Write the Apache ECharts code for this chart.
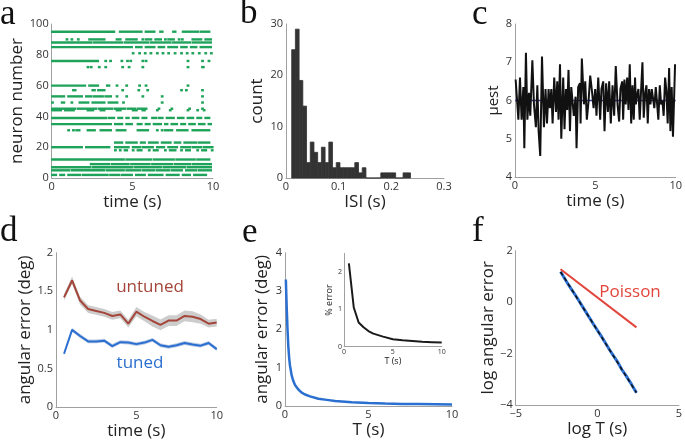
<!DOCTYPE html>
<html><head><meta charset="utf-8">
<script src="https://cdn.jsdelivr.net/npm/echarts@6/dist/echarts.min.js"></script>
<style>html,body{margin:0;padding:0;background:#fff}#c{width:685px;height:442px}</style>
</head><body><div id="c"></div>
<script>
// ---------- Panel a: spike raster (neuron, runs of spikes [start,end] in s) ----------
const rasterNeurons = [95, 90, 88, 85, 81, 76, 72, 60, 57, 53, 49, 45, 44, 39, 35, 31, 23, 20, 18, 12, 9, 7, 5, 2];
const rasterRuns = [
  [[0,3.9],[4.2,5.6],[5.8,6.4],[6.7,6.9],[7.5,7.7],[8.1,9.1],[9.2,9.8]],
  [[0.9,0.9],[1.2,1.2],[1.6,1.6],[2.3,3.3],[4.0,4.3],[4.6,5.3],[5.6,5.6],[5.8,6.2],[6.4,6.8],[7.0,7.0],[7.2,7.6],[7.85,7.85],[8.05,8.05],[8.7,9.3],[9.5,9.9]],
  [[0,2.5],[2.6,4.4],[4.5,6.0],[6.1,7.4],[7.5,8.6],[8.7,9.9]],
  [[0,5.0],[5.2,5.6],[5.8,6.4],[6.6,7.0],[7.2,7.8],[8.0,8.4],[8.6,9.0],[9.2,9.9]],
  [[5.0,5.0],[5.4,5.4],[5.75,5.75],[6.1,6.1],[6.5,6.5],[6.85,6.85],[7.2,7.2],[7.6,7.6],[8.0,8.0],[8.35,8.35],[8.7,8.7],[9.1,9.1],[9.5,9.5],[9.85,9.85]],
  [[0,2.9],[3.3,3.3],[3.6,3.6],[4.3,4.3],[4.65,4.65],[4.85,4.85],[5.6,5.6],[5.8,5.8],[8.4,8.5],[9.3,9.3],[9.7,9.7]],
  [[2.2,2.2],[2.4,2.4],[2.9,2.9],[3.3,3.3],[4.35,4.35],[4.75,4.85],[5.6,5.7],[8.4,8.5],[9.3,9.45]],
  [[0,2.1],[2.3,2.9],[3.4,3.6],[4.0,4.0],[4.6,4.6],[5.4,5.4],[5.8,5.8],[8.4,8.4]],
  [[1.3,1.5],[2.5,2.7],[2.85,3.3],[4.35,4.35],[5.35,5.35],[5.9,5.9],[8.0,8.0],[8.3,8.3],[9.3,9.3]],
  [[0,0.8],[1.0,1.9],[2.1,2.5],[2.6,3.2],[3.3,3.7],[4.0,4.0],[4.6,4.6],[5.6,5.6],[6.8,6.8],[9.3,9.3]],
  [[0,0],[0.6,0.8],[1.2,1.2],[1.7,2.3],[2.5,3.3],[3.5,4.1],[4.4,4.4],[6.8,6.8],[9.3,9.3]],
  [[0,1.5],[1.6,2.8],[2.9,3.8],[3.9,4.6],[4.7,5.2],[5.3,5.9],[6.6,6.6],[7.4,7.4],[8.5,8.5],[9.3,9.3]],
  [[0,0.6],[0.8,1.4],[2.2,2.6],[3.0,3.3],[4.0,4.3],[5.0,5.3],[5.6,5.8],[6.5,6.5],[7.3,7.3],[8.4,8.4],[9.0,9.0],[9.4,9.4]],
  [[0,3.4],[3.5,3.9],[4.1,4.4],[4.6,4.8],[5.0,5.4],[5.6,5.9],[6.2,6.5],[6.6,6.9],[7.1,7.6],[7.8,8.2],[8.4,8.8],[9.0,9.3],[9.5,9.8]],
  [[0,3.7],[3.9,4.4],[4.6,5.0],[5.3,5.6],[5.8,6.1],[6.3,6.8],[7.0,7.2],[7.4,7.8],[8.0,8.3],[8.5,8.9],[9.1,9.5],[9.7,9.9]],
  [[1.0,1.1],[1.3,1.3],[1.5,1.75],[2.2,2.7],[3.0,3.7],[4.0,4.6],[5.3,6.0],[6.5,6.5],[6.8,6.8],[7.0,7.5],[7.75,8.45],[8.7,9.8]],
  [[3.9,4.4],[4.6,5.3],[5.5,5.8],[6.0,6.6],[6.8,7.4],[7.6,8.0],[8.2,9.0],[9.1,9.8]],
  [[0,1.9],[2.1,3.6],[3.9,4.8],[5.0,5.5],[5.6,6.3],[6.5,7.0],[7.2,7.8],[8.0,8.6],[8.7,9.3],[9.4,10]],
  [[3.9,3.9],[4.2,4.2],[4.5,4.7],[5.0,5.0],[5.3,5.6],[6.0,6.0],[6.3,6.6],[7.0,7.0],[7.3,7.7],[8.0,8.0],[8.3,8.6],[9.0,9.0],[9.3,9.6],[9.9,9.9]],
  [[0,4.5],[4.6,6.2],[6.3,7.6],[7.7,8.9],[9.0,9.8]],
  [[2.4,3.6],[3.7,4.8],[4.9,6.1],[6.2,7.5],[7.6,8.6],[8.7,9.9]],
  [[0,2.4],[2.5,5.0],[5.1,6.8],[6.9,8.3],[8.4,9.9]],
  [[0,1.1],[1.2,3.3],[3.4,4.5],[4.6,5.5],[5.6,6.4],[6.5,7.3],[7.4,8.1],[8.3,9.0],[9.1,9.9]],
  [[0,0.3],[0.5,0.8],[1.0,1.8],[1.9,3.5],[3.6,4.2],[4.3,5.0],[5.2,5.8],[6.0,6.9],[7.1,7.9],[8.1,8.6],[8.8,9.6]]
];

// ---------- Panel b: ISI histogram ----------
const isiBinStart = 0.0108;
const isiBinWidth = 0.00705;
const isiCounts = [25,29,19,14,3,7,5,3,6,3,7,2,3,2,2,2,2,3,1,2,0,0,0,0,1,1,1,1,0,0,1,1];

// ---------- Panel c: mu estimate ----------
const muTimes = [0.04,0.21,0.31,0.41,0.52,0.58,0.68,0.77,0.87,0.95,1.08,1.18,1.30,1.39,1.47,1.57,1.68,1.80,1.90,1.99,2.09,2.17,2.26,2.34,2.44,2.55,2.63,2.71,2.80,2.88,3.00,3.08,3.17,3.25,3.33,3.42,3.50,3.58,3.66,3.77,3.83,3.93,4.04,4.08,4.16,4.29,4.37,4.47,4.58,4.68,4.80,4.89,4.99,5.07,5.18,5.30,5.38,5.49,5.57,5.67,5.78,5.86,5.96,6.07,6.17,6.27,6.38,6.48,6.56,6.67,6.73,6.81,6.89,6.98,7.06,7.14,7.23,7.31,7.39,7.47,7.52,7.60,7.68,7.76,7.85,7.93,8.01,8.10,8.18,8.26,8.34,8.43,8.51,8.59,8.67,8.76,8.84,8.92,9.01,9.09,9.17,9.25,9.34,9.42,9.50,9.59,9.67,9.75,9.83,9.96];
const muValues = [6.55,5.5,6.6,5.5,6.35,4.75,7.25,5.5,6.2,5.6,7.05,5.9,5.3,6.4,5.2,4.55,7.15,5.3,6.3,5.4,6.3,5.8,6.3,5.4,6.6,5.7,6.5,5.5,6.95,5.0,6.6,5.25,6.3,5.75,6.8,5.2,6.35,6.35,5.6,6.1,4.75,6.35,6.45,5.4,7.1,5.9,6.5,5.5,6.0,6.65,6.2,5.8,6.3,5.6,6.6,5.5,6.3,6.5,5.2,6.45,5.7,6.5,5.4,6.4,5.6,6.9,5.9,5.45,6.3,6.5,5.5,6.55,5.9,6.6,5.75,6.95,5.4,6.4,5.5,6.6,5.9,6.15,6.3,5.5,6.3,7.0,5.55,6.2,6.4,5.4,6.3,5.9,6.3,6.35,5.8,6.35,6.3,5.5,6.4,5.9,6.0,5.6,6.6,6.25,5.4,6.85,5.2,6.35,5.05,6.95];
const muTrue = 6;

// ---------- Panel d: angular error vs time ----------
const dTimes = [0.5,1,1.5,2,2.5,3,3.5,4,4.5,5,5.5,6,6.5,7,7.5,8,8.5,9,9.5,10];
const untunedMean = [1.42,1.64,1.38,1.27,1.245,1.22,1.18,1.2,1.08,1.235,1.17,1.115,1.065,1.12,1.12,1.18,1.17,1.14,1.08,1.095];
const untunedErr = [0.04,0.05,0.05,0.05,0.05,0.05,0.05,0.05,0.05,0.06,0.06,0.07,0.07,0.07,0.07,0.07,0.07,0.06,0.05,0.05];
const tunedMean = [0.69,1.0,0.92,0.85,0.85,0.86,0.79,0.84,0.835,0.815,0.835,0.87,0.80,0.78,0.80,0.83,0.81,0.795,0.83,0.75];
const tunedErr = [0.02,0.025,0.025,0.025,0.025,0.025,0.025,0.025,0.025,0.025,0.025,0.025,0.025,0.025,0.025,0.025,0.025,0.025,0.025,0.025];

// ---------- Panel e: angular error vs T, and inset % error ----------
const eT = [0.05,0.1,0.15,0.2,0.25,0.3,0.4,0.5,0.6,0.8,1.0,1.2,1.5,2,2.5,3,4,5,6,7,8,9,10];
const eErr = [3.3,2.6,2.0,1.55,1.25,1.05,0.8,0.65,0.55,0.43,0.35,0.3,0.25,0.19,0.16,0.13,0.1,0.08,0.065,0.055,0.05,0.045,0.04];
const insetT = [0.5,1,1.5,2,2.5,3,4,5,6,7,8,9,10];
const insetPct = [2.23,1.05,0.65,0.52,0.42,0.35,0.27,0.2,0.17,0.15,0.13,0.12,0.11];

// ---------- Panel f: log-log ----------
const fLogT = [-2.25,-1.75,-1.25,-0.75,-0.25,0.25,0.75,1.25,1.5,1.75,2.1,2.4];
const fLogErr = [1.18,0.66,0.18,-0.33,-0.84,-1.33,-1.85,-2.33,-2.62,-2.85,-3.2,-3.52];
const fFitT = [-2.25, 2.4];
const fFitErr = [1.18, -3.52];
const fPoissonT = [-2.25, 2.4];
const fPoissonErr = [1.28, -0.98];

// ---------- styling ----------
const FONT = 'Open Sans';
const GREEN = '#1fa35a', BROWN = '#a4463a', BLUE = '#2b6fd0', RED = '#e2453c';
const zip = (a, b) => a.map((v, i) => [v, b[i]]);

function ax(gridIndex, min, max, interval, name, o) {
  o = o || {};
  return {
    gridIndex, type: 'value', min, max, interval, name,
    nameLocation: 'middle', nameGap: o.nameGap || 18,
    nameTextStyle: { fontSize: o.nameSize || 17, color: '#222', fontFamily: FONT },
    axisLine: { show: true, onZero: false, lineStyle: { color: '#a0a0a0', width: 1 } },
    axisTick: { show: false },
    splitLine: { show: false },
    axisLabel: { color: '#333', fontSize: o.labelSize || 11, fontFamily: FONT, margin: o.margin || 3,
      showMaxLabel: o.hideMax ? false : true,
      formatter: v => String(+v.toFixed(3)).replace('-', '\u2212') }
  };
}

const rasterData = [];
rasterNeurons.forEach((n, i) => rasterRuns[i].forEach(r => rasterData.push([r[0], r[1], n])));
const isiData = isiCounts.map((c, k) => [isiBinStart + k * isiBinWidth, isiBinStart + (k + 1) * isiBinWidth, c]);

function band(xs, m, e, color, xi, yi) {
  return {
    type: 'custom', xAxisIndex: xi, yAxisIndex: yi, silent: true, z: 1,
    data: [[xs[0], m[0]]],
    renderItem: (params, api) => {
      const pts = [];
      for (let i = 0; i < xs.length; i++) pts.push(api.coord([xs[i], m[i] + e[i]]));
      for (let i = xs.length - 1; i >= 0; i--) pts.push(api.coord([xs[i], m[i] - e[i]]));
      return { type: 'polygon', shape: { points: pts }, style: { fill: color } };
    }
  };
}

const option = {
  animation: false,
  backgroundColor: '#fff',
  grid: [
    { left: 51.7, top: 24, width: 161.3, height: 154 },
    { left: 286, top: 24, width: 158, height: 154 },
    { left: 515, top: 24, width: 161, height: 153 },
    { left: 56, top: 252.7, width: 160.7, height: 154.3 },
    { left: 285, top: 252.7, width: 167, height: 153.3 },
    { left: 344, top: 253.4, width: 97.7, height: 93.3 },
    { left: 515.7, top: 250.7, width: 164.3, height: 154.3 }
  ],
  xAxis: [
    ax(0, 0, 10, 5, 'time (s)', { nameGap: 16 }),
    ax(1, 0, 0.3, 0.1, 'ISI (s)', { nameGap: 16 }),
    ax(2, 0, 10, 5, 'time (s)', { nameGap: 16 }),
    ax(3, 0, 10, 5, 'time (s)', { nameGap: 16 }),
    ax(4, 0, 10, 5, 'T (s)', { nameGap: 16 }),
    ax(5, 0, 10, 5, 'T (s)', { nameGap: 8, nameSize: 9, labelSize: 7, margin: 2 }),
    ax(6, -5, 5, 5, 'log T (s)', { nameGap: 16 })
  ],
  yAxis: [
    ax(0, 0, 100, 20, 'neuron number', { nameGap: 15 }),
    ax(1, 0, 30, 10, 'count', { nameGap: 20 }),
    ax(2, 4, 8, 1, '\u03bcest', { nameGap: 14, nameSize: 15 }),
    ax(3, 0, 2, 0.5, 'angular error (deg)', { nameGap: 21 }),
    ax(4, 0, 4, 1, 'angular error (deg)', { nameGap: 14 }),
    ax(5, 0, 2.5, 1, '% error', { nameGap: 8, nameSize: 9, labelSize: 7, margin: 2, hideMax: true }),
    ax(6, -4, 2, 2, 'log angular error', { nameGap: 11 })
  ],
  series: [
    { type: 'custom', xAxisIndex: 0, yAxisIndex: 0, data: rasterData, encode: { x: [0, 1], y: 2 },
      renderItem: (params, api) => {
        const p1 = api.coord([api.value(0), api.value(2)]);
        const p2 = api.coord([api.value(1), api.value(2)]);
        const w = Math.max(p2[0] - p1[0], 1.6);
        return { type: 'rect', shape: { x: p1[0] - 0.6, y: p1[1] - 1.2, width: w + 1.2, height: 2.4 }, style: { fill: GREEN } };
      } },
    { type: 'custom', xAxisIndex: 1, yAxisIndex: 1, data: isiData, encode: { x: [0, 1], y: 2 },
      renderItem: (params, api) => {
        const p1 = api.coord([api.value(0), api.value(2)]);
        const p2 = api.coord([api.value(1), 0]);
        return { type: 'rect', shape: { x: p1[0], y: p1[1], width: p2[0] - p1[0], height: p2[1] - p1[1] },
          style: { fill: '#333333', stroke: '#333333', lineWidth: 0.8 } };
      } },
    { type: 'line', xAxisIndex: 2, yAxisIndex: 2, data: [[0, muTrue], [10, muTrue]], showSymbol: false,
      lineStyle: { color: '#3a3a9c', width: 1.5 }, z: 1 },
    { type: 'line', xAxisIndex: 2, yAxisIndex: 2, data: zip(muTimes, muValues), showSymbol: false,
      lineStyle: { color: '#111', width: 2 }, z: 2 },
    band(dTimes, untunedMean, untunedErr, '#cdcdcd', 3, 3),
    band(dTimes, tunedMean, tunedErr, '#bccbe3', 3, 3),
    { type: 'line', xAxisIndex: 3, yAxisIndex: 3, data: zip(dTimes, untunedMean), showSymbol: false,
      lineStyle: { color: BROWN, width: 2 }, z: 3 },
    { type: 'line', xAxisIndex: 3, yAxisIndex: 3, data: zip(dTimes, tunedMean), showSymbol: false,
      lineStyle: { color: BLUE, width: 2 }, z: 3 },
    { type: 'line', xAxisIndex: 4, yAxisIndex: 4, data: zip(eT, eErr), showSymbol: false,
      lineStyle: { color: BLUE, width: 2.5 } },
    { type: 'line', xAxisIndex: 5, yAxisIndex: 5, data: zip(insetT, insetPct), showSymbol: false,
      lineStyle: { color: '#1a1a1a', width: 2 } },
    { type: 'line', xAxisIndex: 6, yAxisIndex: 6, data: zip(fLogT, fLogErr), showSymbol: false,
      lineStyle: { color: BLUE, width: 3 } },
    { type: 'line', xAxisIndex: 6, yAxisIndex: 6, data: zip(fFitT, fFitErr), showSymbol: false,
      lineStyle: { color: '#111', width: 1.5, type: [4, 3] } },
    { type: 'line', xAxisIndex: 6, yAxisIndex: 6, data: zip(fPoissonT, fPoissonErr), showSymbol: false,
      lineStyle: { color: RED, width: 2 } }
  ],
  graphic: [
    ...[['a', 0, 15], ['b', 240, 14], ['c', 472, 15], ['d', 0, 232], ['e', 242, 233], ['f', 472, 232]].map(l => ({
      type: 'text', x: l[1], y: l[2],
      style: { text: l[0], font: '35px "Liberation Serif"', fill: '#111', textAlign: 'left', textVerticalAlign: 'middle' }
    })),
    { type: 'text', x: 150, y: 287, style: { text: 'untuned', font: '17px "Open Sans"', fill: BROWN, textAlign: 'center', textVerticalAlign: 'middle' } },
    { type: 'text', x: 140, y: 363, style: { text: 'tuned', font: '17px "Open Sans"', fill: BLUE, textAlign: 'center', textVerticalAlign: 'middle' } },
    { type: 'text', x: 630, y: 292, style: { text: 'Poisson', font: '17px "Open Sans"', fill: RED, textAlign: 'center', textVerticalAlign: 'middle' } }
  ]
};

const chart = echarts.init(document.getElementById('c'), null, { renderer: 'canvas' });
chart.setOption(option);
</script>
</body></html>
